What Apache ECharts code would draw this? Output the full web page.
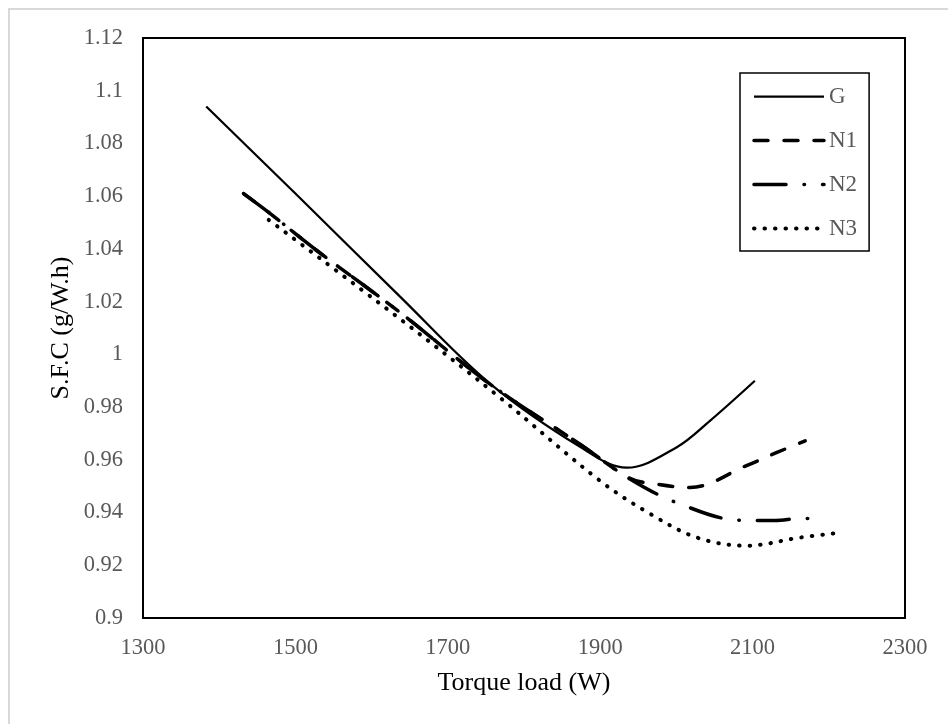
<!DOCTYPE html>
<html>
<head>
<meta charset="utf-8">
<script src="https://cdn.jsdelivr.net/npm/echarts@6/dist/echarts.min.js"></script>
<style>
html,body{margin:0;padding:0;background:#fff;}
#chart{width:948px;height:724px;}
</style>
</head>
<body>
<div id="chart"></div>
<script>
// ---- data ----
const seriesNames = ['G', 'N1', 'N2', 'N3'];

const gLoad = [1383, 1500, 1637, 1755, 1873, 1935, 2000, 2044, 2103];
const gSfc  = [1.094, 1.061, 1.022, 0.989, 0.965, 0.957, 0.9647, 0.9748, 0.990];

const n1Load = [1432, 1467, 1528, 1637, 1755, 1873, 1939, 1969, 2018, 2092, 2132, 2169];
const n1Sfc  = [1.061, 1.0534, 1.0394, 1.016, 0.9888, 0.966, 0.953, 0.951, 0.9495, 0.9578, 0.9628, 0.9672];

const n2Load = [1432, 1467, 1528, 1637, 1755, 1873, 1939, 2000, 2083, 2130, 2162, 2195];
const n2Sfc  = [1.061, 1.0534, 1.0394, 1.016, 0.9888, 0.966, 0.9527, 0.9438, 0.9371, 0.937, 0.9377, 0.9377];

const n3Load = [1465, 1637, 1768, 1900, 1965, 2027, 2092, 2162, 2217];
const n3Sfc  = [1.051, 1.0135, 0.9837, 0.952, 0.9396, 0.9305, 0.9274, 0.9305, 0.9324];

const xTitle = 'Torque load (W)';
const yTitle = 'S.F.C (g/W.h)';

function pairs(xs, ys) { return xs.map((x, i) => [x, ys[i]]); }

const FONT = '"Liberation Serif", "Times New Roman", serif';

const chart = echarts.init(document.getElementById('chart'), null, {renderer: 'canvas'});

const lineStyles = [
  {color: '#000', width: 2.25, type: 'solid'},
  {color: '#000', width: 3.5, type: [14, 16], cap: 'round'},
  {color: '#000', width: 3.5, type: [32, 18, 0.5, 18], cap: 'round'},
  {color: '#000', width: 4, type: [0.5, 10], cap: 'round'}
];
const datasets = [pairs(gLoad, gSfc), pairs(n1Load, n1Sfc), pairs(n2Load, n2Sfc), pairs(n3Load, n3Sfc)];

chart.setOption({
  animation: false,
  backgroundColor: '#fff',
  grid: {
    left: 143, right: 43, top: 38, bottom: 106,
    show: true, borderColor: '#000', borderWidth: 2, backgroundColor: 'transparent',
    containLabel: false
  },
  xAxis: {
    type: 'value', min: 1300, max: 2300, interval: 200,
    axisLine: {show: false}, axisTick: {show: false}, splitLine: {show: false},
    axisLabel: {color: '#595959', fontSize: 22.5, fontFamily: FONT, margin: 19,
      formatter: v => String(v)}
  },
  yAxis: {
    type: 'value', min: 0.9, max: 1.12, interval: 0.02,
    axisLine: {show: false}, axisTick: {show: false}, splitLine: {show: false},
    axisLabel: {
      color: '#595959', fontSize: 22.5, fontFamily: FONT, margin: 20,
      formatter: v => String(parseFloat(v.toFixed(2)))
    }
  },
  legend: {
    orient: 'vertical', left: 740, top: 73,
    itemWidth: 70, itemHeight: 20, itemGap: 21,
    padding: [12, 12, 11, 12],
    borderColor: '#000', borderWidth: 1.5,
    backgroundColor: '#fff',
    itemStyle: {opacity: 0},
    lineStyle: {width: 'inherit', type: 'inherit', cap: 'inherit'},
    textStyle: {color: '#595959', fontSize: 23, fontFamily: FONT, lineHeight: 20, height: 20},
    data: seriesNames
  },
  graphic: [
    {type: 'rect', shape: {x: 9, y: 9, width: 1000, height: 1000},
     style: {fill: 'none', stroke: '#d9d9d9', lineWidth: 2}, silent: true, z: -10},
    {type: 'text', x: 524, y: 683,
     style: {text: xTitle, fill: '#000', fontSize: 26, fontFamily: FONT, align: 'center', verticalAlign: 'middle'}},
    {type: 'text', x: 61, y: 328, rotation: Math.PI / 2,
     style: {text: yTitle, fill: '#000', fontSize: 26, fontFamily: FONT, align: 'center', verticalAlign: 'middle'}}
  ],
  series: seriesNames.map((name, i) => ({
    name: name,
    type: 'line',
    data: datasets[i],
    showSymbol: false,
    symbol: 'none',
    smooth: 0.35,
    lineStyle: lineStyles[i],
    itemStyle: {color: '#000'},
    z: 4 - i
  }))
});
</script>
</body>
</html>
